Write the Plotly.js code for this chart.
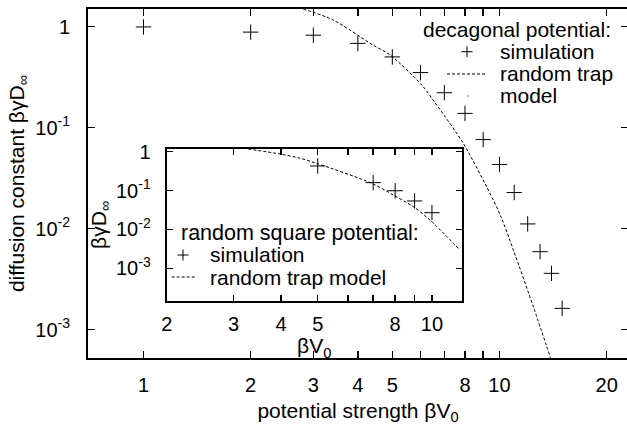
<!DOCTYPE html>
<html><head><meta charset="utf-8">
<script src="https://cdn.plot.ly/plotly-3.0.1.min.js"></script>
<style>html,body{margin:0;padding:0;overflow:hidden;background:#fff}#chart{width:630px;height:429px}</style>
</head><body><div id="chart"></div>
<script>
// ---- main plot: decagonal potential ----
const decaSimX = [1, 2, 3, 4, 5, 6, 7, 8, 9, 10, 11, 12, 13, 14, 15];
const decaSimY = [0.99, 0.88, 0.82, 0.68, 0.50, 0.35, 0.221, 0.138, 0.076, 0.043, 0.0227, 0.0111, 0.0059, 0.0036, 0.00162];
const decaModelX = [2.81, 3.41, 4.41, 4.92, 6.05, 6.66, 7.91, 9.61, 10.14, 10.94, 12.45, 13.95];
const decaModelY = [1.49, 1.16, 0.656, 0.525, 0.263, 0.167, 0.0698, 0.0191, 0.0126, 0.00612, 0.00168, 0.00051];

// ---- inset: random square potential ----
const sqSimX = [5, 7, 8, 9, 10];
const sqSimY = [0.43, 0.16, 0.099, 0.054, 0.027];
const sqModelX = [3.28, 3.98, 4.49, 4.97, 6.94, 7.91, 8.93, 9.88, 11.85];
const sqModelY = [1.17, 0.873, 0.68, 0.50, 0.154, 0.0769, 0.0385, 0.0175, 0.00296];

// ---- tick labels ----
const mainXTicks = [1, 2, 3, 4, 5, 8, 10, 20];
const mainXText  = ['1', '2', '3', '4', '5', '8', '10', '20'];
const mainXMinor = [6, 7, 9];
const mainYTicks = [1, 0.1, 0.01, 0.001];
const mainYText  = ['1', '10<sup>-1</sup>', '10<sup>-2</sup>', '10<sup>-3</sup>'];
const insetXTicks = [2, 3, 4, 5, 8, 10];
const insetXText  = ['2', '3', '4', '5', '8', '10'];
const insetXMinor = [6, 7, 9];
const insetYTicks = [1, 0.1, 0.01, 0.001];
const insetYText  = ['1', '10<sup>-1</sup>', '10<sup>-2</sup>', '10<sup>-3</sup>'];

const FONT = 'Liberation Sans, Arial, Helvetica, sans-serif';
const BLACK = '#000';
const plusMarker = {symbol: 'cross-thin-open', size: 11, line: {width: 1, color: BLACK}, color: BLACK};
const dashLine = {color: BLACK, width: 1, dash: '3px,2px', shape: 'spline', smoothing: 0.8};

const traces = [
  {x: decaSimX, y: decaSimY, type: 'scatter', mode: 'markers', marker: plusMarker, xaxis: 'x', yaxis: 'y', name: 'simulation'},
  {x: decaModelX, y: decaModelY, type: 'scatter', mode: 'lines', line: dashLine, xaxis: 'x', yaxis: 'y', name: 'random trap model'},
  {x: sqSimX, y: sqSimY, type: 'scatter', mode: 'markers', marker: plusMarker, xaxis: 'x2', yaxis: 'y2', name: 'simulation'},
  {x: sqModelX, y: sqModelY, type: 'scatter', mode: 'lines', line: dashLine, xaxis: 'x2', yaxis: 'y2', name: 'random trap model'}
];

// plot area in pixels: left 88, right 628, top 9, bottom 358
const PX = x => (x - 88) / 540;
const PY = y => (358 - y) / 349;

function axisCommon(extra) {
  return Object.assign({
    type: 'log', ticks: 'inside', tickcolor: BLACK, tickwidth: 1.5,
    showline: true, linewidth: 2, linecolor: BLACK, mirror: 'ticks',
    showgrid: false, zeroline: false,
    tickfont: {family: FONT, size: 20, color: BLACK}
  }, extra);
}

function txt(text, x, y, anchor, size) {
  return {text: text, x: PX(x), y: PY(y), xref: 'paper', yref: 'paper', showarrow: false,
          xanchor: anchor, yanchor: 'middle', borderpad: 0, borderwidth: 0,
          font: {family: FONT, size: size, color: BLACK}};
}
function seg(x0, y0, x1, y1, dash) {
  return {type: 'line', xref: 'paper', yref: 'paper', x0: PX(x0), y0: PY(y0), x1: PX(x1), y1: PY(y1),
          line: {color: BLACK, width: 1, dash: dash || 'solid'}};
}

const layout = {
  width: 630, height: 429,
  margin: {l: 88, r: 2, t: 9, b: 71, pad: 0},
  paper_bgcolor: '#fff', plot_bgcolor: '#fff',
  showlegend: false,
  font: {family: FONT, size: 21, color: BLACK},
  xaxis: axisCommon({
    range: [-0.1559, 1.361], tickvals: mainXTicks, ticktext: mainXText, ticklen: 7,
    minor: {tickvals: mainXMinor, ticks: 'inside', ticklen: 7, tickwidth: 1.5, tickcolor: BLACK, showgrid: false},
    ticklabelstandoff: 8, anchor: 'y',
    title: {text: 'potential strength βV<sub>0</sub>', standoff: 8, font: {family: FONT, size: 21, color: BLACK}}
  }),
  yaxis: axisCommon({
    range: [-3.282, 0.1733], tickvals: mainYTicks, ticktext: mainYText, ticklen: 7,
    ticklabelstandoff: 12, anchor: 'x',
    title: {text: 'diffusion constant βγD<sub>∞</sub>', standoff: 5, font: {family: FONT, size: 21, color: BLACK}}
  }),
  xaxis2: axisCommon({
    domain: [PX(166.7), PX(461.7)], range: [0.30103, 1.0784], tickvals: insetXTicks, ticktext: insetXText,
    minor: {tickvals: insetXMinor, ticks: 'inside', ticklen: 6, tickwidth: 1.5, tickcolor: BLACK, showgrid: false},
    ticklen: 6, ticklabelstandoff: 4, anchor: 'y2',
    title: {text: 'βV<sub>0</sub>', standoff: 0, font: {family: FONT, size: 21, color: BLACK}}
  }),
  yaxis2: axisCommon({
    domain: [PY(300.5), PY(149)], range: [-3.828, 0.0695], tickvals: insetYTicks, ticktext: insetYText,
    ticklen: 6, ticklabelstandoff: 10, anchor: 'x2',
    title: {text: 'βγD<sub>∞</sub>', standoff: 4, font: {family: FONT, size: 21, color: BLACK}}
  }),
  annotations: [
    txt('decagonal potential:', 611, 30, 'right', 21),
    txt('simulation', 499.5, 51.7, 'left', 21),
    txt('random trap', 499.5, 74, 'left', 21),
    txt('model', 499.5, 95.5, 'left', 21),
    txt('random square potential:', 181, 233.5, 'left', 21.5),
    txt('simulation', 209.5, 255, 'left', 21),
    txt('random trap model', 209.5, 277, 'left', 21)
  ],
  shapes: [
    // main legend keys
    seg(461.5, 51.7, 472.5, 51.7), seg(467, 46.2, 467, 57.2),
    seg(447, 74, 485, 74, '3px,2px'),
    seg(467.5, 96, 468.5, 96),
    // inset legend keys
    seg(177.5, 255, 188.5, 255), seg(183, 249.5, 183, 260.5),
    seg(171.7, 277, 196.7, 277, '3px,2px')
  ]
};

Plotly.newPlot('chart', traces, layout, {displayModeBar: false, staticPlot: true});
</script>
</body></html>
